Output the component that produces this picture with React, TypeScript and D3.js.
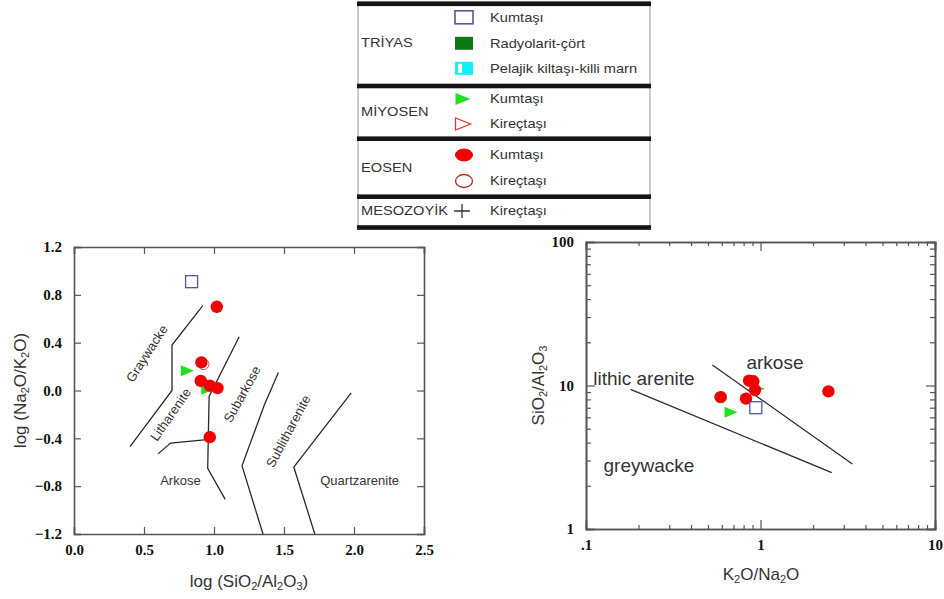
import React, { useRef, useEffect } from "react";
import * as d3 from "d3";

// left diagram: log(SiO2/Al2O3) vs log(Na2O/K2O)
const leftXTicks = [0.0, 0.5, 1.0, 1.5, 2.0, 2.5];
const leftYTicks = [-1.2, -0.8, -0.4, 0.0, 0.4, 0.8, 1.2];
const leftBoundaries = [
  [[0.4, -0.47], [0.7, 0.0], [0.7, 0.38], [0.92, 0.71]],
  [[0.6, -0.53], [0.69, -0.44], [0.95, -0.41]],
  [[1.18, 0.45], [0.965, -0.05], [0.955, -0.65], [1.08, -0.91]],
  [[1.46, 0.15], [1.36, -0.12], [1.2, -0.63], [1.35, -1.2]],
  [[1.98, -0.02], [1.57, -0.64], [1.72, -1.2]],
];
const leftRegions = [
  { name: "Graywacke", x: 0.52, y: 0.31, rot: -57 },
  { name: "Litharenite", x: 0.69, y: -0.2, rot: -55 },
  { name: "Subarkose", x: 1.2, y: -0.03, rot: -61 },
  { name: "Sublitharenite", x: 1.53, y: -0.34, rot: -62 },
  { name: "Arkose", x: 0.76, y: -0.75, rot: 0 },
  { name: "Quartzarenite", x: 2.04, y: -0.75, rot: 0 },
];
const leftMiyosenKum = [[0.81, 0.165], [0.955, 0.01]];
const leftEosenKum = [[1.02, 0.7], [0.91, 0.235], [0.905, 0.08], [0.97, 0.04], [1.025, 0.02], [0.97, -0.39]];
const leftEosenKir = [[0.925, 0.22]];
const leftTriyasKum = [[0.84, 0.91]];

// right diagram: K2O/Na2O vs SiO2/Al2O3 (log-log)
const rightXTicks = [0.1, 1, 10];
const rightXLabels = [".1", "1", "10"];
const rightYTicks = [1, 10, 100];
const rightBoundaries = [
  [[0.18, 9.4], [2.56, 2.47]],
  [[0.53, 13.9], [3.36, 2.84]],
];
const rightRegions = [
  { name: "arkose", x: 1.21, y: 14.4, anchor: "middle" },
  { name: "lithic arenite", x: 0.11, y: 11.2, anchor: "start" },
  { name: "greywacke", x: 0.126, y: 2.79, anchor: "start" },
];
const rightMiyosenKum = [[0.97, 9.5], [0.678, 6.5]];
const rightEosenKum = [[0.59, 8.3], [0.86, 10.8], [0.91, 10.7], [0.93, 9.3], [0.826, 8.1], [2.45, 9.1]];
const rightEosenKir = [[0.595, 8.3]];
const rightTriyasKum = [[0.94, 7.0]];

// legend
const legendGroups = [
  { name: "TRİYAS", items: ["Kumtaşı", "Radyolarit-çört", "Pelajik kiltaşı-killi marn"] },
  { name: "MİYOSEN", items: ["Kumtaşı", "Kireçtaşı"] },
  { name: "EOSEN", items: ["Kumtaşı", "Kireçtaşı"] },
  { name: "MESOZOYİK", items: ["Kireçtaşı"] },
];

const RED = "#f20000";
const GREEN = "#22e022";
const BLUE = "#55559f";
const BROWN = "#a0342c";
const FRAME = "#555";
const TXT = "#333";
const SANS = "'Liberation Sans', Arial, sans-serif";
const SERIF = "'Liberation Serif', 'Times New Roman', serif";

const App = () => {
  const svgRef = useRef(null);

  useEffect(() => {
    const svg = d3.select(svgRef.current);
    svg.selectAll("*").remove();

    const triPath = (w, h) => `M${-w / 2},${-h / 2}L${w / 2},0L${-w / 2},${h / 2}Z`;

    // ---------- legend ----------
    const lg = svg.append("g");
    const lx0 = 358, lx1 = 650;
    const bars = [3.8, 86, 138.7, 196.7, 227.5];
    lg.append("rect").attr("x", lx0).attr("y", 2).attr("width", lx1 - lx0).attr("height", 227)
      .attr("fill", "#fff").attr("stroke", "#999").attr("stroke-width", 1);
    bars.forEach(b => {
      lg.append("rect").attr("x", lx0 - 1).attr("y", b - 2.3).attr("width", lx1 - lx0 + 2)
        .attr("height", 4.6).attr("fill", "#151515");
    });
    const groupY = [43, 112, 168, 211];
    const itemY = [[17.3, 43.3, 68.3], [99, 124], [155, 181], [211]];
    const stretchText = (g, x, y, s) => g.append("text")
      .attr("transform", `translate(${x},${y}) scale(1.22,1)`)
      .attr("dy", "0.35em").style("font-family", SANS).style("font-size", "12px")
      .attr("fill", TXT).text(s);
    legendGroups.forEach((grp, gi) => {
      stretchText(lg, 361, groupY[gi], grp.name);
      grp.items.forEach((it, ii) => stretchText(lg, 490, itemY[gi][ii], it));
    });
    const mx = 464;
    lg.append("rect").attr("x", mx - 9).attr("y", 17.3 - 6.5).attr("width", 18).attr("height", 13)
      .attr("fill", "none").attr("stroke", BLUE).attr("stroke-width", 1.6);
    lg.append("rect").attr("x", mx - 9).attr("y", 43.3 - 6.5).attr("width", 18).attr("height", 13)
      .attr("fill", "#0b7a12");
    lg.append("rect").attr("x", mx - 9).attr("y", 68.3 - 6.5).attr("width", 18).attr("height", 13)
      .attr("fill", "#10f0f8");
    lg.append("rect").attr("x", mx - 6).attr("y", 68.3 - 4.5).attr("width", 4).attr("height", 9)
      .attr("fill", "#fff");
    lg.append("path").attr("d", triPath(15, 12)).attr("transform", `translate(${mx - 1},99)`)
      .attr("fill", GREEN);
    lg.append("path").attr("d", triPath(15, 12)).attr("transform", `translate(${mx - 1},124)`)
      .attr("fill", "none").attr("stroke", "#e03a3a").attr("stroke-width", 1.3);
    lg.append("ellipse").attr("cx", mx).attr("cy", 155).attr("rx", 9).attr("ry", 6.5).attr("fill", RED);
    lg.append("ellipse").attr("cx", mx).attr("cy", 181).attr("rx", 8.5).attr("ry", 6.5)
      .attr("fill", "none").attr("stroke", BROWN).attr("stroke-width", 1.3);
    lg.append("path").attr("d", `M${mx - 10},211H${mx + 6}M${mx - 2},204V218`)
      .attr("stroke", TXT).attr("stroke-width", 1.3);

    // helper for sub-scripted titles
    const subTitle = (g, parts, attrs) => {
      const t = g.append("text").style("font-family", SANS).style("font-size", "17px").attr("fill", TXT)
        .attr("text-anchor", "middle");
      Object.entries(attrs).forEach(([k, v]) => t.attr(k, v));
      parts.forEach(([s, sub]) => {
        const ts = t.append("tspan").text(s);
        if (sub) ts.style("font-size", "11px").attr("baseline-shift", "-25%");
      });
      return t;
    };

    const drawPoints = (g, sx, sy, tri, kum, kir, sq) => {
      tri.forEach(d => g.append("path").attr("d", triPath(13, 11))
        .attr("transform", `translate(${sx(d[0])},${sy(d[1])})`).attr("fill", GREEN));
      kum.forEach(d => g.append("circle").attr("cx", sx(d[0])).attr("cy", sy(d[1])).attr("r", 6.2)
        .attr("fill", RED));
      kir.forEach(d => g.append("circle").attr("cx", sx(d[0])).attr("cy", sy(d[1])).attr("r", 5.5)
        .attr("fill", "none").attr("stroke", BROWN).attr("stroke-width", 1).attr("opacity", 0.8));
      sq.forEach(d => g.append("rect").attr("x", sx(d[0]) - 6).attr("y", sy(d[1]) - 6)
        .attr("width", 12).attr("height", 12).attr("fill", "none").attr("stroke", BLUE)
        .attr("stroke-width", 1.3));
    };

    // ---------- left chart ----------
    const L = { l: 74, r: 424, t: 247, b: 534 };
    const x1 = d3.scaleLinear().domain([0, 2.5]).range([L.l, L.r]);
    const y1 = d3.scaleLinear().domain([-1.2, 1.2]).range([L.b, L.t]);
    const g1 = svg.append("g");
    const line1 = d3.line().x(d => x1(d[0])).y(d => y1(d[1]));

    g1.append("g").attr("transform", `translate(0,${L.b})`)
      .call(d3.axisBottom(x1).tickValues(leftXTicks).tickSize(-7).tickPadding(10).tickFormat(d3.format(".1f")));
    g1.append("g").attr("transform", `translate(0,${L.t})`)
      .call(d3.axisTop(x1).tickValues(leftXTicks).tickSize(-7).tickFormat(() => ""));
    g1.append("g").attr("transform", `translate(${L.l},0)`)
      .call(d3.axisLeft(y1).tickValues(leftYTicks).tickSize(-7).tickPadding(12).tickFormat(d3.format(".1f")));
    g1.append("g").attr("transform", `translate(${L.r},0)`)
      .call(d3.axisRight(y1).tickValues(leftYTicks).tickSize(-7).tickFormat(() => ""));

    leftBoundaries.forEach(b => g1.append("path").attr("d", line1(b)).attr("fill", "none")
      .attr("stroke", "#2a2a2a").attr("stroke-width", 1.3));
    leftRegions.forEach(r => g1.append("text")
      .attr("transform", `translate(${x1(r.x)},${y1(r.y)}) rotate(${r.rot})`)
      .attr("text-anchor", "middle").attr("dy", "0.35em").style("font-family", SANS)
      .style("font-size", "13px").attr("fill", TXT).text(r.name));

    drawPoints(g1, x1, y1, leftMiyosenKum, leftEosenKum, leftEosenKir, leftTriyasKum);

    subTitle(g1, [["log (SiO"], ["2", true], ["/Al"], ["2", true], ["O"], ["3", true], [")"]],
      { x: (L.l + L.r) / 2, y: 587 });
    subTitle(g1, [["log (Na"], ["2", true], ["O/K"], ["2", true], ["O)"]],
      { transform: `translate(26,${(L.t + L.b) / 2}) rotate(-90)` });

    // ---------- right chart ----------
    const R = { l: 586, r: 935, t: 242, b: 529 };
    const x2 = d3.scaleLog().domain([0.1, 10]).range([R.l, R.r]);
    const y2 = d3.scaleLog().domain([1, 100]).range([R.b, R.t]);
    const g2 = svg.append("g");
    const line2 = d3.line().x(d => x2(d[0])).y(d => y2(d[1]));

    const minor = [];
    [0.1, 1].forEach(dec => d3.range(2, 10).forEach(k => minor.push(dec * k)));
    const minorY = [];
    [1, 10].forEach(dec => d3.range(2, 10).forEach(k => minorY.push(dec * k)));

    g2.append("g").attr("transform", `translate(0,${R.b})`)
      .call(d3.axisBottom(x2).tickValues(rightXTicks).tickSize(-9).tickPadding(10)
        .tickFormat((d, i) => rightXLabels[i]));
    g2.append("g").attr("transform", `translate(0,${R.b})`)
      .call(d3.axisBottom(x2).tickValues(minor).tickSize(-4).tickFormat(() => ""));
    g2.append("g").attr("transform", `translate(0,${R.t})`)
      .call(d3.axisTop(x2).tickValues(rightXTicks).tickSize(-9).tickFormat(() => ""));
    g2.append("g").attr("transform", `translate(0,${R.t})`)
      .call(d3.axisTop(x2).tickValues(minor).tickSize(-4).tickFormat(() => ""));
    g2.append("g").attr("transform", `translate(${R.l},0)`)
      .call(d3.axisLeft(y2).tickValues(rightYTicks).tickSize(-9).tickPadding(12).tickFormat(d3.format("d")));
    g2.append("g").attr("transform", `translate(${R.l},0)`)
      .call(d3.axisLeft(y2).tickValues(minorY).tickSize(-5).tickFormat(() => ""));
    g2.append("g").attr("transform", `translate(${R.r},0)`)
      .call(d3.axisRight(y2).tickValues(rightYTicks).tickSize(-9).tickFormat(() => ""));
    g2.append("g").attr("transform", `translate(${R.r},0)`)
      .call(d3.axisRight(y2).tickValues(minorY).tickSize(-5).tickFormat(() => ""));

    rightBoundaries.forEach(b => g2.append("path").attr("d", line2(b)).attr("fill", "none")
      .attr("stroke", "#2a2a2a").attr("stroke-width", 1.3));
    rightRegions.forEach(r => g2.append("text").attr("x", x2(r.x)).attr("y", y2(r.y))
      .attr("text-anchor", r.anchor).attr("dy", "0.35em").style("font-family", SANS)
      .style("font-size", "19px").attr("fill", TXT).text(r.name));

    drawPoints(g2, x2, y2, rightMiyosenKum, rightEosenKum, rightEosenKir, rightTriyasKum);

    subTitle(g2, [["K"], ["2", true], ["O/Na"], ["2", true], ["O"]], { x: 761, y: 580 });
    subTitle(g2, [["SiO"], ["2", true], ["/Al"], ["2", true], ["O"], ["3", true]],
      { transform: `translate(544,${(R.t + R.b) / 2}) rotate(-90)` });

    // axis styling
    svg.selectAll(".domain").attr("stroke", FRAME).attr("stroke-width", 1.6);
    svg.selectAll(".tick line").attr("stroke", FRAME).attr("stroke-width", 1.2);
    svg.selectAll(".tick text").style("font-family", SERIF).style("font-weight", "bold")
      .style("font-size", "15px").attr("fill", "#111");
  }, []);

  return (
    <div style={{ position: "absolute", left: 0, top: 0 }}>
      <svg ref={svgRef} width={944} height={599} style={{ display: "block", background: "#fff" }} />
    </div>
  );
};

export default App;
